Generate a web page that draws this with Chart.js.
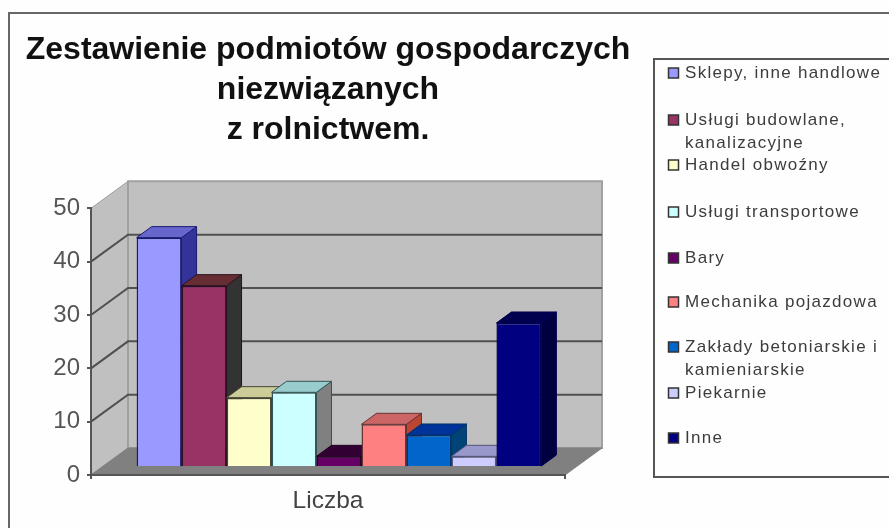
<!DOCTYPE html>
<html>
<head>
<meta charset="utf-8">
<style>html,body{margin:0;padding:0;background:#fff;overflow:hidden}canvas{display:block}</style>
<script src="https://cdn.jsdelivr.net/npm/chart.js@4"></script>
</head>
<body>
<canvas id="c" width="889" height="528"></canvas>
<script>
const categories = ["Liczba"];
const seriesNames = ["Sklepy, inne handlowe","Usługi budowlane, kanalizacyjne","Handel obwoźny","Usługi transportowe","Bary","Mechanika pojazdowa","Zakłady betoniarskie i kamieniarskie","Piekarnie","Inne"];
const seriesValues = [43,34,13,14,2,8,6,2,27];
const legendLines = [["Sklepy, inne handlowe"],["Usługi budowlane,","kanalizacyjne"],["Handel obwoźny"],["Usługi transportowe"],["Bary"],["Mechanika pojazdowa"],["Zakłady betoniarskie i","kamieniarskie"],["Piekarnie"],["Inne"]];
const titleLines = ["Zestawienie podmiotów gospodarczych","niezwiązanych","z rolnictwem."];
const frontColors = ["#9999FF","#993366","#FFFFCC","#CCFFFF","#660066","#FF8080","#0066CC","#CCCCFF","#000080"];
const topColors   = ["#6666CC","#662E33","#CCCC99","#99CCCC","#330033","#CC6666","#003399","#9999CC","#000050"];
const sideColors  = ["#333399","#333333","#999977","#808080","#220022","#BB4433","#004477","#777799","#000040"];
const edgeColors  = ["#1a1a70","#2a1020","#444433","#335555","#220022","#663333","#003366","#555577","#000050"];
const legendCenters = [73,120,165,212,258,302,347,393,438];

const FONT = '"Liberation Sans", Arial, sans-serif';
const WALL = {dx:37, dy:-27}, BAR = {dx:11, dy:-8}, DEPTH = {dx:15, dy:-11};

function poly(ctx, pts, fill, stroke, lw){
  ctx.beginPath();
  pts.forEach((p,i)=> i?ctx.lineTo(p[0],p[1]):ctx.moveTo(p[0],p[1]));
  ctx.closePath();
  if(fill){ctx.fillStyle=fill;ctx.fill();}
  if(stroke){ctx.strokeStyle=stroke;ctx.lineWidth=lw||1;ctx.stroke();}
}

const scene = {
  id:'scene',
  afterLayout(chart){
    // centre the title over the plot, wider than the plot itself
    chart.titleBlock.left = 18; chart.titleBlock.right = 638;
  },
  beforeDraw(chart){
    const ctx = chart.ctx, xs = chart.scales.x, ys = chart.scales.y;
    const L = xs.left, R = xs.right, B = ys.bottom, T = ys.top;
    ctx.save();
    ctx.fillStyle = '#FEFEFE'; ctx.fillRect(0,0,889,528);
    // outer frame
    ctx.strokeStyle = '#666'; ctx.lineWidth = 2;
    ctx.beginPath(); ctx.moveTo(9,528); ctx.lineTo(9,13); ctx.lineTo(889,13); ctx.stroke();
    // side wall, back wall, floor
    poly(ctx,[[L,T],[L+WALL.dx,T+WALL.dy],[L+WALL.dx,B+WALL.dy],[L,B]],'#C0C0C0','#A0A0A0',1);
    poly(ctx,[[L+WALL.dx,T+WALL.dy],[R+WALL.dx,T+WALL.dy],[R+WALL.dx,B+WALL.dy],[L+WALL.dx,B+WALL.dy]],'#C0C0C0','#A0A0A0',2);
    poly(ctx,[[L,B],[L+WALL.dx,B+WALL.dy],[R+WALL.dx,B+WALL.dy],[R,B]],'#808080','#808080',1);
    // gridlines on both walls
    ctx.strokeStyle = '#505050'; ctx.lineWidth = 2;
    ys.ticks.forEach(t=>{
      if(t.value===0 || t.value===ys.max) return;
      const y = ys.getPixelForValue(t.value);
      ctx.beginPath(); ctx.moveTo(L,y); ctx.lineTo(L+WALL.dx,y+WALL.dy); ctx.lineTo(R+WALL.dx,y+WALL.dy); ctx.stroke();
    });
    ctx.restore();
  },
  beforeDatasetsDraw(chart){
    // paint the bars left to right, each with its side and top faces behind it
    const ctx = chart.ctx;
    ctx.save();
    ctx.translate(BAR.dx,BAR.dy);
    chart.getSortedVisibleDatasetMetas().forEach((meta,i)=>{
      const el = meta.data[0];
      const l = el.x-el.width/2, r = el.x+el.width/2, t = el.y, b = el.base;
      poly(ctx,[[r,t],[r+DEPTH.dx,t+DEPTH.dy],[r+DEPTH.dx,b+DEPTH.dy],[r,b]],sideColors[i],edgeColors[i],1);
      poly(ctx,[[l,t],[l+DEPTH.dx,t+DEPTH.dy],[r+DEPTH.dx,t+DEPTH.dy],[r,t]],topColors[i],edgeColors[i],1);
      meta.controller.draw();
    });
    ctx.restore();
    return false;
  },
  afterDraw(chart){
    const ctx = chart.ctx;
    ctx.save();
    ctx.strokeStyle='#555'; ctx.lineWidth=2;
    ctx.beginPath(); ctx.moveTo(892,59); ctx.lineTo(654,59); ctx.lineTo(654,477); ctx.lineTo(892,477); ctx.stroke();
    ctx.font = '17px '+FONT; ctx.textBaseline='middle'; ctx.textAlign='left';
    if('letterSpacing' in ctx) ctx.letterSpacing='1.3px';
    seriesNames.forEach((n,i)=>{
      const y = legendCenters[i];
      ctx.fillStyle=frontColors[i]; ctx.strokeStyle='#333'; ctx.lineWidth=1.5;
      ctx.fillRect(668.5,y-5,10,10); ctx.strokeRect(668.5,y-5,10,10);
      ctx.fillStyle='#3c3c3c';
      legendLines[i].forEach((s,k)=>ctx.fillText(s,685,y+k*23));
    });
    ctx.restore();
  }
};

new Chart(document.getElementById('c'),{
  type:'bar',
  data:{
    labels:categories,
    datasets:seriesNames.map((name,i)=>({
      label:name,
      data:[seriesValues[i]],
      backgroundColor:frontColors[i],
      borderColor:edgeColors[i],
      borderWidth:1.5,
      clip:false,
      categoryPercentage:0.854,
      barPercentage:1
    }))
  },
  options:{
    responsive:false,
    animation:false,
    events:[],
    layout:{padding:{left:0,right:324,top:0,bottom:0}},
    plugins:{
      legend:{display:false},
      tooltip:{enabled:false},
      title:{
        display:true,
        text:titleLines,
        color:'#111',
        font:{family:FONT,size:32,weight:'bold',lineHeight:1.25},
        padding:{top:30,bottom:58.3}
      }
    },
    scales:{
      x:{
        afterFit(s){s.height=53;},
        grid:{drawOnChartArea:false,drawTicks:true,tickLength:4,color:'#555',lineWidth:2},
        border:{color:'#555',width:2},
        ticks:{color:'#444',font:{family:FONT,size:24.5},padding:8}
      },
      y:{
        min:0,max:50,
        afterFit(s){s.width=91;},
        grid:{drawOnChartArea:false,drawTicks:true,tickLength:4,color:'#555',lineWidth:2},
        border:{color:'#555',width:2},
        ticks:{stepSize:10,color:'#555',font:{family:FONT,size:24},padding:7}
      }
    }
  },
  plugins:[scene]
});
</script>
</body>
</html>
